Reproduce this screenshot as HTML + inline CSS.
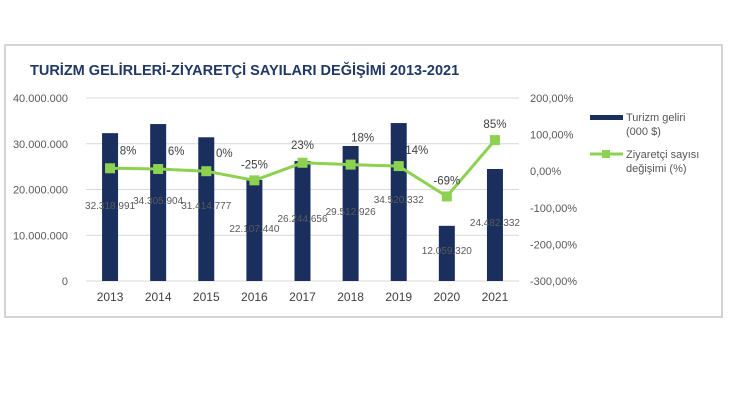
<!DOCTYPE html>
<html><head><meta charset="utf-8"><style>
body{margin:0;background:#fff;width:730px;height:420px;overflow:hidden;font-family:"Liberation Sans",sans-serif}
#frame{position:absolute;left:4px;top:44px;width:719px;height:274px;border:2px solid #d4d4d4;box-sizing:border-box}
</style></head><body>
<div id="frame"></div>
<svg id="c" width="730" height="420" style="position:absolute;left:0;top:0">
<text x="30" y="75" font-size="14.5" font-weight="bold" fill="#1f3864">TURİZM GELİRLERİ-ZİYARETÇİ SAYILARI DEĞİŞİMİ 2013-2021</text>
<g id="grid"></g><g id="bars"></g><g id="line"></g><g id="labels"></g>
<g>
<rect x="590" y="115" width="33" height="5" fill="#1b2f5e"/>
<text x="626" y="121" font-size="11" fill="#555">Turizm geliri</text>
<text x="626" y="135" font-size="11" fill="#555">(000 $)</text>
<line x1="590" y1="154" x2="623" y2="154" stroke="#8dd150" stroke-width="3"/>
<rect x="602" y="150" width="8" height="8" fill="#8dd150"/>
<text x="626" y="158" font-size="11" fill="#555">Ziyaretçi sayısı</text>
<text x="626" y="172" font-size="11" fill="#555">değişimi (%)</text>
</g>
</svg>
<script>
const years=["2013","2014","2015","2016","2017","2018","2019","2020","2021"];
const revenue=[32318991,34305904,31414777,22107440,26244656,29512926,34520332,12059320,24482332];
const revenueLabels=["32.318.991","34.305.904","31.414.777","22.107.440","26.244.656","29.512.926","34.520.332","12.059.320","24.482.332"];
const change=[8,6,0,-25,23,18,14,-69,85];
const leftTicks=[0,10000000,20000000,30000000,40000000];
const leftTickLabels=["0","10.000.000","20.000.000","30.000.000","40.000.000"];
const rightTicks=[-300,-200,-100,0,100,200];
const rightTickLabels=["-300,00%","-200,00%","-100,00%","0,00%","100,00%","200,00%"];
const labelY=[209,204,209,232,222,215,203,254,226];
const pctDx=[18,18,18,0,0,12,18,0,0];
const pctDy=[-14,-14,-14,-12,-14,-23,-12,-12,-12];
const ns="http://www.w3.org/2000/svg";
const x0=86,x1=519,yTop=98,yBot=281;
const xc=i=>x0+(x1-x0)/years.length*(i+0.5);
const yL=v=>yBot-(v/40000000)*(yBot-yTop);
const yR=v=>yBot-((v+300)/500)*(yBot-yTop);
function mk(tag,attrs,parent,text){const e=document.createElementNS(ns,tag);for(const k in attrs)e.setAttribute(k,attrs[k]);if(text!==undefined)e.textContent=text;document.getElementById(parent).appendChild(e);return e;}
leftTicks.forEach((t,i)=>{
 const g=mk('line',{x1:x0,x2:x1,y1:yL(t),y2:yL(t),stroke:'#d9d9d9','stroke-width':1},'grid');
 
 
 const l=mk('text',{x:68,y:yL(t)+4,'font-size':11,fill:'#595959','text-anchor':'end'},'grid',leftTickLabels[i]);
 
 
});
rightTicks.forEach((t,i)=>{
 const l=mk('text',{x:530,y:yR(t)+4,'font-size':11,fill:'#595959'},'grid',rightTickLabels[i]);
 
 
});
years.forEach((y,i)=>{
 const b=mk('rect',{x:xc(i)-8,y:yL(revenue[i]),width:16,height:yBot-yL(revenue[i]),fill:'#1b2f5e'},'bars');
 
 
 const t=mk('text',{x:xc(i),y:301,'font-size':12,fill:'#404040','text-anchor':'middle'},'grid',y);
 
 
 const v=mk('text',{x:xc(i),y:labelY[i],'font-size':10,fill:'#595959','text-anchor':'middle'},'labels',revenueLabels[i]);
 
 
});
const pts=change.map((c,i)=>xc(i)+','+yR(c)).join(' ');
const pl=mk('polyline',{points:pts,fill:'none',stroke:'#8dd150','stroke-width':3},'line');


change.forEach((c,i)=>{
 const m=mk('rect',{x:xc(i)-5,y:yR(c)-5,width:10,height:10,fill:'#8dd150'},'line');
 
 
 const l=mk('text',{x:xc(i)+pctDx[i],y:yR(c)+pctDy[i],'font-size':11.5,fill:'#404040','text-anchor':'middle'},'labels',c+'%');
 
 
});
</script>
</body></html>
